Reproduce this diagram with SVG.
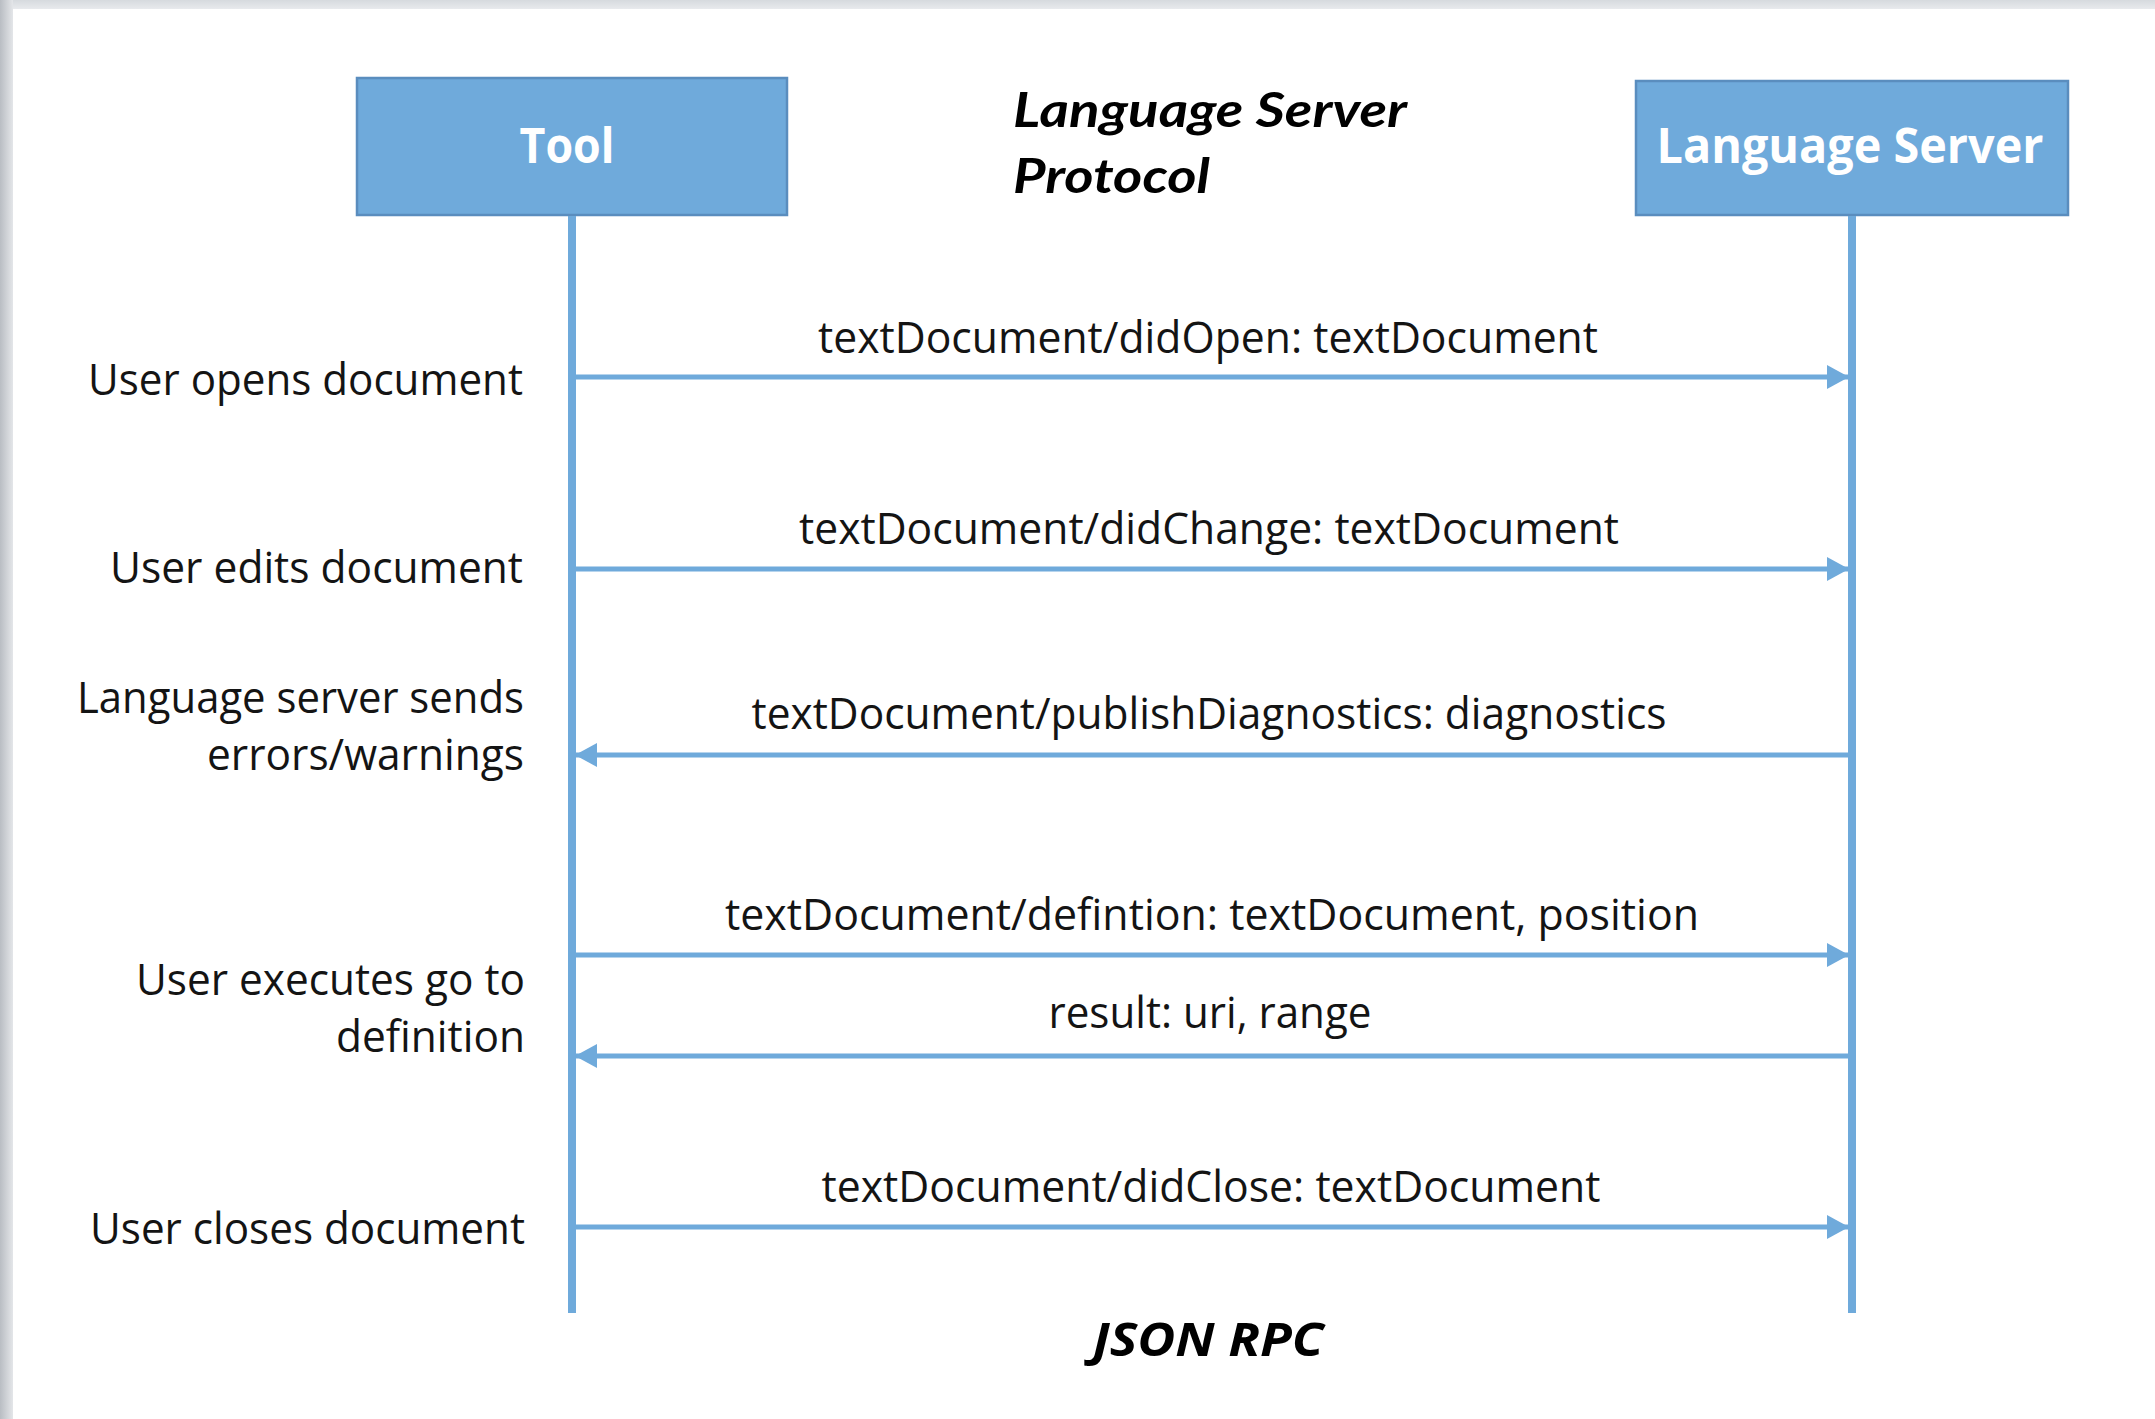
<svg xmlns="http://www.w3.org/2000/svg" width="2155" height="1419" viewBox="0 0 2155 1419">
<style>
.box{fill:#6FAADB;stroke:#5A8DBE;stroke-width:2.5}
.boxt{font-family:"Open Sans","Noto Sans",sans-serif;font-weight:700;font-size:49px;fill:#ffffff;text-anchor:middle}
.life{stroke:#6FAADB;stroke-width:8;fill:none}
.msg{stroke:#6FAADB;stroke-width:5;fill:none}
.lbl{font-family:"Open Sans","Noto Sans",sans-serif;font-size:43px;fill:#141414;text-anchor:middle}
.side{font-family:"Open Sans","Noto Sans",sans-serif;font-size:43px;fill:#141414;text-anchor:end}
.title{font-family:Lato,"Open Sans",sans-serif;font-weight:700;font-style:italic;font-size:48px;fill:#000000}
.foot{font-family:"Open Sans","Noto Sans",sans-serif;font-weight:700;font-style:italic;font-size:47px;fill:#000000;text-anchor:middle}
</style>
<defs>
<marker id="ah" markerUnits="userSpaceOnUse" markerWidth="22" markerHeight="24" refX="21" refY="12" orient="auto">
<path d="M0,0 L22,12 L0,24 Z" fill="#6FAADB"/>
</marker>
<linearGradient id="gl" x1="0" y1="0" x2="1" y2="0">
<stop offset="0" stop-color="#b9bdc3"/>
<stop offset="1" stop-color="#e4e6e9"/>
</linearGradient>
<linearGradient id="gt" x1="0" y1="0" x2="0" y2="1">
<stop offset="0" stop-color="#d6dade"/>
<stop offset="1" stop-color="#e8eaed"/>
</linearGradient>
</defs>
<rect x="0" y="0" width="2155" height="1419" fill="#ffffff"/>
<rect x="0" y="0" width="2155" height="9" fill="url(#gt)"/>
<rect x="0" y="0" width="13" height="1419" fill="url(#gl)"/>

<g id="title">
<text class="title" x="1013" y="127" textLength="394" lengthAdjust="spacingAndGlyphs">Language Server</text>
<text class="title" x="1013" y="193" textLength="197" lengthAdjust="spacingAndGlyphs">Protocol</text>
</g>

<g id="tool">
<rect class="box" x="357" y="78" width="430" height="137"/>
<text class="boxt" x="567" y="163" textLength="95" lengthAdjust="spacingAndGlyphs">Tool</text>
</g>

<g id="language-server">
<rect class="box" x="1636" y="81" width="432" height="134"/>
<text class="boxt" x="1850" y="163" textLength="387" lengthAdjust="spacingAndGlyphs">Language Server</text>
</g>

<g id="connectors">
<line class="life" x1="572" y1="216" x2="572" y2="1313"/>
<line class="life" x1="1852" y1="216" x2="1852" y2="1313"/>
<line class="msg" x1="576" y1="377" x2="1848" y2="377" marker-end="url(#ah)"/>
<line class="msg" x1="576" y1="569" x2="1848" y2="569" marker-end="url(#ah)"/>
<line class="msg" x1="1848" y1="755" x2="576" y2="755" marker-end="url(#ah)"/>
<line class="msg" x1="576" y1="955" x2="1848" y2="955" marker-end="url(#ah)"/>
<line class="msg" x1="1848" y1="1056" x2="576" y2="1056" marker-end="url(#ah)"/>
<line class="msg" x1="576" y1="1227" x2="1848" y2="1227" marker-end="url(#ah)"/>
</g>

<g id="message-labels">
<text class="lbl" x="1208" y="353" textLength="780" lengthAdjust="spacingAndGlyphs">textDocument/didOpen: textDocument</text>
<text class="lbl" x="1209" y="544" textLength="820" lengthAdjust="spacingAndGlyphs">textDocument/didChange: textDocument</text>
<text class="lbl" x="1209" y="729" textLength="915" lengthAdjust="spacingAndGlyphs">textDocument/publishDiagnostics: diagnostics</text>
<text class="lbl" x="1212" y="930" textLength="974" lengthAdjust="spacingAndGlyphs">textDocument/defintion: textDocument, position</text>
<text class="lbl" x="1210" y="1028" textLength="323" lengthAdjust="spacingAndGlyphs">result: uri, range</text>
<text class="lbl" x="1211" y="1202" textLength="779" lengthAdjust="spacingAndGlyphs">textDocument/didClose: textDocument</text>
</g>

<g id="side-labels">
<text class="side" x="523" y="395" textLength="435" lengthAdjust="spacingAndGlyphs">User opens document</text>
<text class="side" x="523" y="583" textLength="413" lengthAdjust="spacingAndGlyphs">User edits document</text>
<text class="side" x="524" y="713" textLength="447" lengthAdjust="spacingAndGlyphs">Language server sends</text>
<text class="side" x="524" y="770" textLength="317" lengthAdjust="spacingAndGlyphs">errors/warnings</text>
<text class="side" x="525" y="995" textLength="389" lengthAdjust="spacingAndGlyphs">User executes go to</text>
<text class="side" x="525" y="1052" textLength="189" lengthAdjust="spacingAndGlyphs">definition</text>
<text class="side" x="525" y="1244" textLength="435" lengthAdjust="spacingAndGlyphs">User closes document</text>
</g>

<g id="footer">
<text class="foot" x="1208" y="1356" textLength="231" lengthAdjust="spacingAndGlyphs">JSON RPC</text>
</g>
</svg>
